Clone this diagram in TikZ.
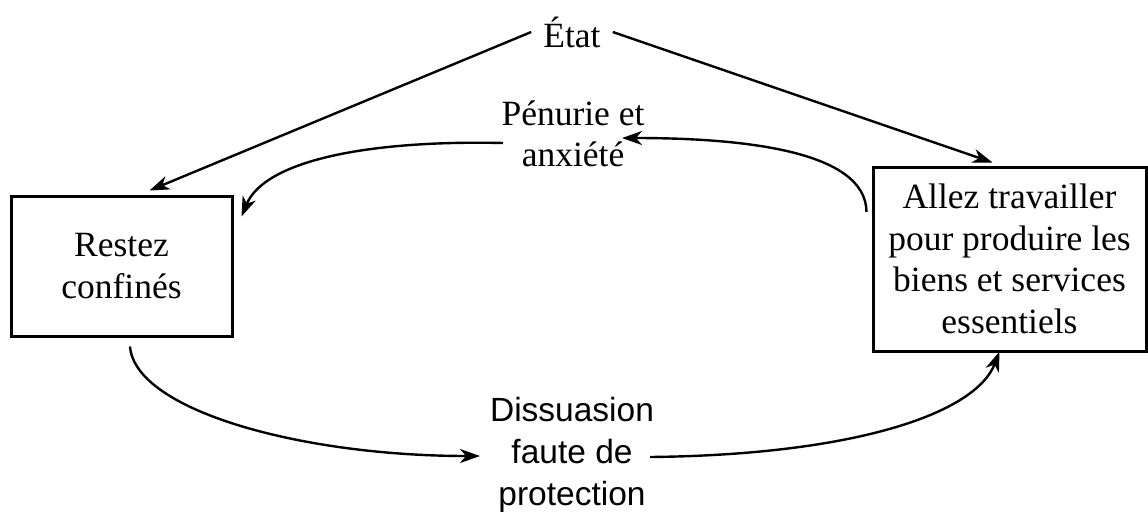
\documentclass[tikz,border=0pt]{standalone}
\usepackage{fontspec}
\setmainfont{Liberation Serif}
\newfontfamily\sansf{Liberation Sans}
\usetikzlibrary{arrows.meta,calc}
\tikzset{
  lbl/.style={inner sep=0pt, align=center, font=\fontsize{35.5}{41.5}\selectfont},
  sanslbl/.style={inner sep=0pt, align=center, font=\sansf\fontsize{33.5}{42}\selectfont},
  boxnode/.style={draw, line width=3pt, inner sep=0pt, align=center, font=\fontsize{35.5}{41.5}\selectfont},
  conn/.style={line width=2.4pt, -{Stealth[length=20pt,width=14pt,inset=6pt]}},
}
\begin{document}
\begin{tikzpicture}[x=1pt,y=-1pt]
\useasboundingbox (0,0) rectangle (1148,520);
\node[lbl, inner xsep=12pt] (etat) at (572,32) {État};
\node[lbl] (pen) at (573,134) {Pénurie et\\anxiété};
\node[sanslbl] (diss) at (572,455) {Dissuasion\\faute de\\protection};
\node[boxnode, minimum width=221pt, minimum height=140pt] (gauche) at (121.5,266) {Restez\\confinés};
\node[boxnode, minimum width=273pt, minimum height=184pt] (droite) at (1009.5,259) {Allez travailler\\pour produire les\\biens et services\\essentiels};

\draw[conn] (etat.west) -- ([xshift=28pt,yshift=4pt]gauche.north);
\draw[conn] (etat.east) -- ([xshift=-17pt,yshift=3pt]droite.north);
\draw[conn] ([xshift=-5pt,yshift=47pt]droite.west) .. controls (866,150) and (740,138) .. ([xshift=49pt,yshift=-4pt]pen.center);
\draw[conn] ([xshift=-70pt,yshift=-9pt]pen.center) .. controls (370,140) and (265,160) .. ([xshift=8pt,yshift=-22pt]gauche.north east);
\draw[conn] ([xshift=8.5pt,yshift=-9pt]gauche.south) .. controls (135,410) and (300,456) .. ([xshift=-92pt,yshift=-1pt]diss.center);
\draw[conn] ([xshift=78pt,yshift=-2pt]diss.center) .. controls (850,455) and (975,415) .. ([xshift=-10pt,yshift=1pt]droite.south);
\end{tikzpicture}
\end{document}
